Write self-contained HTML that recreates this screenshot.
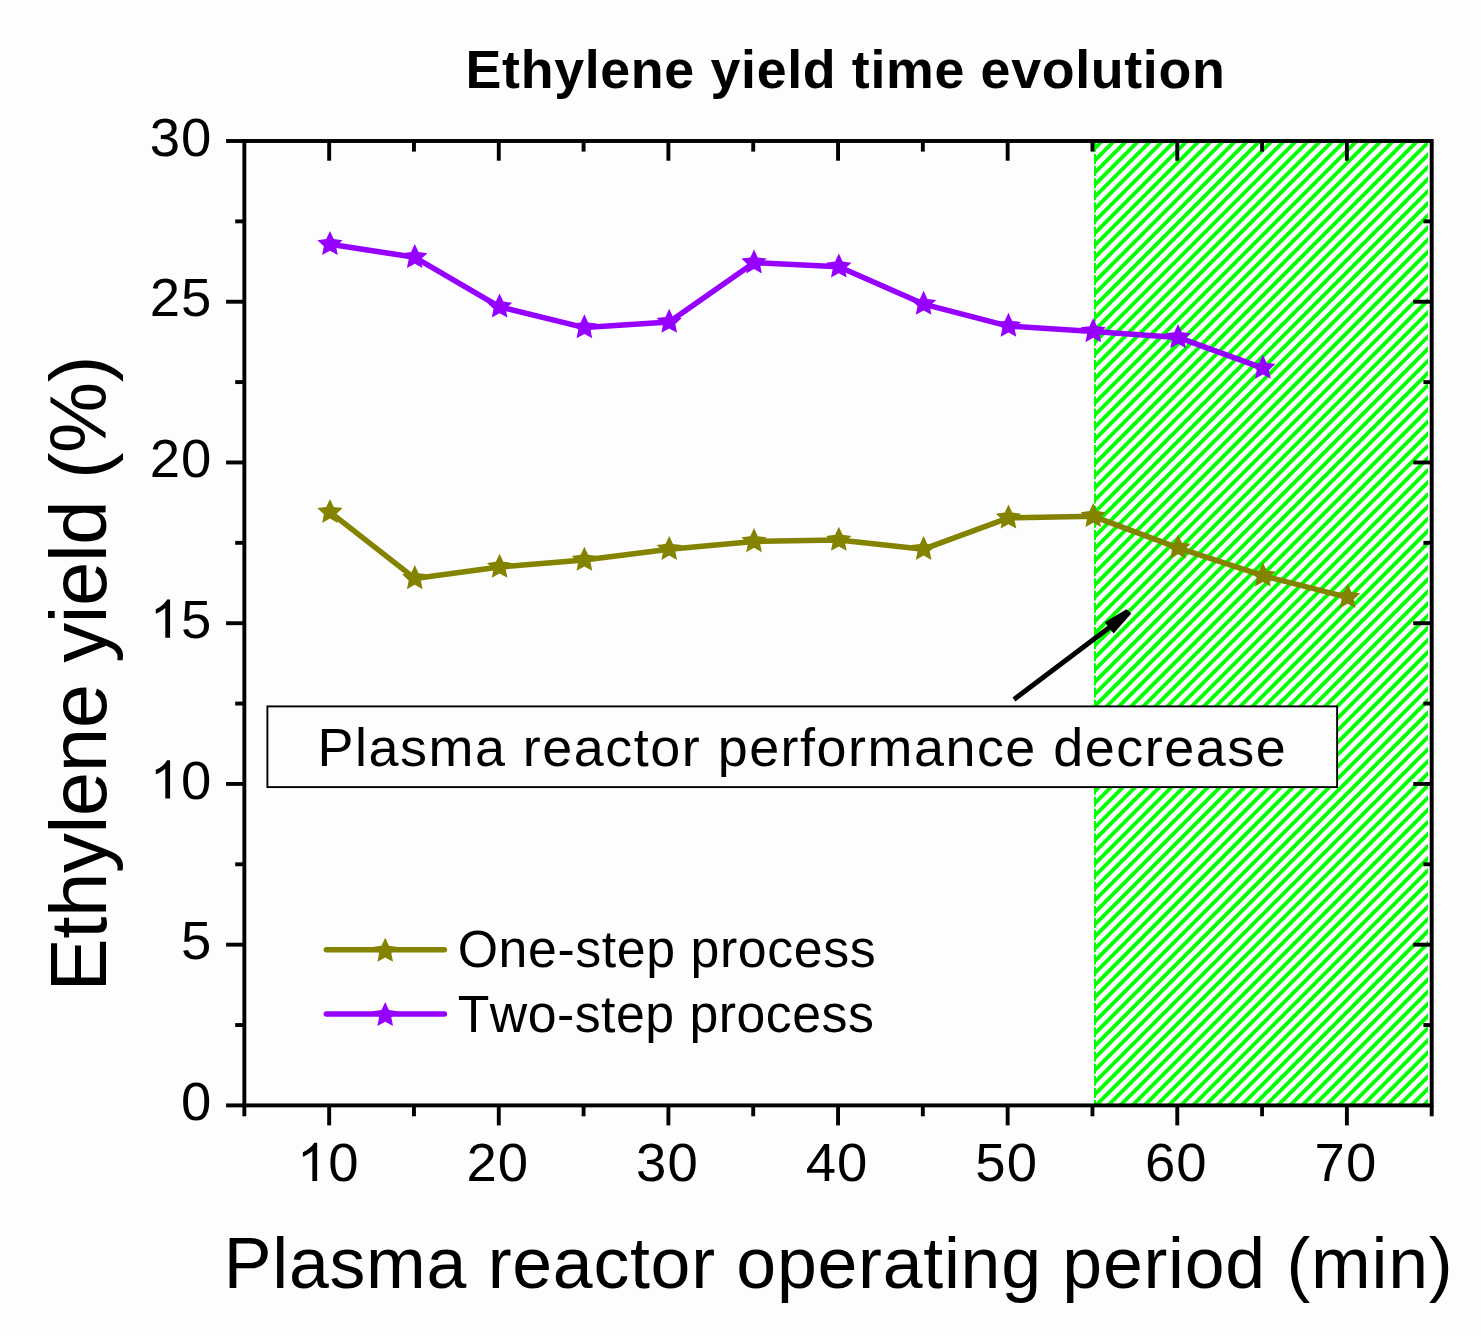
<!DOCTYPE html>
<html><head><meta charset="utf-8"><style>
html,body{margin:0;padding:0;background:#fdfdfd;overflow:hidden;}
svg{display:block;}
text{font-family:"Liberation Sans",sans-serif;font-kerning:none;}
</style></head><body>
<svg width="1481" height="1341" viewBox="0 0 1481 1341">
<rect width="1481" height="1341" fill="#fff"/>
<rect width="1481" height="1329" fill="#fdfdfd"/>
<defs><clipPath id="hc"><rect x="1094.0" y="143.0" width="334.0" height="961.0"/></clipPath></defs>
<path clip-path="url(#hc)" d="M104.81,1114.00L1085.81,133.00M116.94,1114.00L1097.94,133.00M129.07,1114.00L1110.07,133.00M141.20,1114.00L1122.20,133.00M153.33,1114.00L1134.33,133.00M165.46,1114.00L1146.46,133.00M177.59,1114.00L1158.59,133.00M189.72,1114.00L1170.72,133.00M201.85,1114.00L1182.85,133.00M213.98,1114.00L1194.98,133.00M226.11,1114.00L1207.11,133.00M238.24,1114.00L1219.24,133.00M250.37,1114.00L1231.37,133.00M262.50,1114.00L1243.50,133.00M274.63,1114.00L1255.63,133.00M286.76,1114.00L1267.76,133.00M298.89,1114.00L1279.89,133.00M311.02,1114.00L1292.02,133.00M323.15,1114.00L1304.15,133.00M335.28,1114.00L1316.28,133.00M347.41,1114.00L1328.41,133.00M359.54,1114.00L1340.54,133.00M371.67,1114.00L1352.67,133.00M383.80,1114.00L1364.80,133.00M395.93,1114.00L1376.93,133.00M408.06,1114.00L1389.06,133.00M420.19,1114.00L1401.19,133.00M432.32,1114.00L1413.32,133.00M444.45,1114.00L1425.45,133.00M456.58,1114.00L1437.58,133.00M468.71,1114.00L1449.71,133.00M480.84,1114.00L1461.84,133.00M492.97,1114.00L1473.97,133.00M505.10,1114.00L1486.10,133.00M517.23,1114.00L1498.23,133.00M529.36,1114.00L1510.36,133.00M541.49,1114.00L1522.49,133.00M553.62,1114.00L1534.62,133.00M565.75,1114.00L1546.75,133.00M577.88,1114.00L1558.88,133.00M590.01,1114.00L1571.01,133.00M602.14,1114.00L1583.14,133.00M614.27,1114.00L1595.27,133.00M626.40,1114.00L1607.40,133.00M638.53,1114.00L1619.53,133.00M650.66,1114.00L1631.66,133.00M662.79,1114.00L1643.79,133.00M674.92,1114.00L1655.92,133.00M687.05,1114.00L1668.05,133.00M699.18,1114.00L1680.18,133.00M711.31,1114.00L1692.31,133.00M723.44,1114.00L1704.44,133.00M735.57,1114.00L1716.57,133.00M747.70,1114.00L1728.70,133.00M759.83,1114.00L1740.83,133.00M771.96,1114.00L1752.96,133.00M784.09,1114.00L1765.09,133.00M796.22,1114.00L1777.22,133.00M808.35,1114.00L1789.35,133.00M820.48,1114.00L1801.48,133.00M832.61,1114.00L1813.61,133.00M844.74,1114.00L1825.74,133.00M856.87,1114.00L1837.87,133.00M869.00,1114.00L1850.00,133.00M881.13,1114.00L1862.13,133.00M893.26,1114.00L1874.26,133.00M905.39,1114.00L1886.39,133.00M917.52,1114.00L1898.52,133.00M929.65,1114.00L1910.65,133.00M941.78,1114.00L1922.78,133.00M953.91,1114.00L1934.91,133.00M966.04,1114.00L1947.04,133.00M978.17,1114.00L1959.17,133.00M990.30,1114.00L1971.30,133.00M1002.43,1114.00L1983.43,133.00M1014.56,1114.00L1995.56,133.00M1026.69,1114.00L2007.69,133.00M1038.82,1114.00L2019.82,133.00M1050.95,1114.00L2031.95,133.00M1063.08,1114.00L2044.08,133.00M1075.21,1114.00L2056.21,133.00M1087.34,1114.00L2068.34,133.00M1099.47,1114.00L2080.47,133.00M1111.60,1114.00L2092.60,133.00M1123.73,1114.00L2104.73,133.00M1135.86,1114.00L2116.86,133.00M1147.99,1114.00L2128.99,133.00M1160.12,1114.00L2141.12,133.00M1172.25,1114.00L2153.25,133.00M1184.38,1114.00L2165.38,133.00M1196.51,1114.00L2177.51,133.00M1208.64,1114.00L2189.64,133.00M1220.77,1114.00L2201.77,133.00M1232.90,1114.00L2213.90,133.00M1245.03,1114.00L2226.03,133.00M1257.16,1114.00L2238.16,133.00M1269.29,1114.00L2250.29,133.00M1281.42,1114.00L2262.42,133.00M1293.55,1114.00L2274.55,133.00M1305.68,1114.00L2286.68,133.00M1317.81,1114.00L2298.81,133.00M1329.94,1114.00L2310.94,133.00M1342.07,1114.00L2323.07,133.00M1354.20,1114.00L2335.20,133.00M1366.33,1114.00L2347.33,133.00M1378.46,1114.00L2359.46,133.00M1390.59,1114.00L2371.59,133.00M1402.72,1114.00L2383.72,133.00M1414.85,1114.00L2395.85,133.00M1426.98,1114.00L2407.98,133.00M1439.11,1114.00L2420.11,133.00" stroke="#00ff00" stroke-width="3.80" fill="none"/>
<line x1="1095" y1="143.0" x2="1095" y2="1104.0" stroke="#00ff00" stroke-width="2" stroke-dasharray="10 2.13" stroke-dashoffset="1.23"/>
<rect x="244.35" y="141.0" width="1187.3500000000001" height="964.4000000000001" fill="none" stroke="#000" stroke-width="3.9"/>
<line x1="244.35" y1="1105.40" x2="244.35" y2="1116.30" stroke="#000" stroke-width="3.9"/>
<line x1="329.16" y1="1105.40" x2="329.16" y2="1125.40" stroke="#000" stroke-width="3.9"/>
<line x1="329.16" y1="141.00" x2="329.16" y2="160.70" stroke="#000" stroke-width="3.9"/>
<line x1="413.97" y1="1105.40" x2="413.97" y2="1116.30" stroke="#000" stroke-width="3.9"/>
<line x1="413.97" y1="141.00" x2="413.97" y2="151.60" stroke="#000" stroke-width="3.9"/>
<line x1="498.78" y1="1105.40" x2="498.78" y2="1125.40" stroke="#000" stroke-width="3.9"/>
<line x1="498.78" y1="141.00" x2="498.78" y2="160.70" stroke="#000" stroke-width="3.9"/>
<line x1="583.59" y1="1105.40" x2="583.59" y2="1116.30" stroke="#000" stroke-width="3.9"/>
<line x1="583.59" y1="141.00" x2="583.59" y2="151.60" stroke="#000" stroke-width="3.9"/>
<line x1="668.40" y1="1105.40" x2="668.40" y2="1125.40" stroke="#000" stroke-width="3.9"/>
<line x1="668.40" y1="141.00" x2="668.40" y2="160.70" stroke="#000" stroke-width="3.9"/>
<line x1="753.21" y1="1105.40" x2="753.21" y2="1116.30" stroke="#000" stroke-width="3.9"/>
<line x1="753.21" y1="141.00" x2="753.21" y2="151.60" stroke="#000" stroke-width="3.9"/>
<line x1="838.03" y1="1105.40" x2="838.03" y2="1125.40" stroke="#000" stroke-width="3.9"/>
<line x1="838.03" y1="141.00" x2="838.03" y2="160.70" stroke="#000" stroke-width="3.9"/>
<line x1="922.84" y1="1105.40" x2="922.84" y2="1116.30" stroke="#000" stroke-width="3.9"/>
<line x1="922.84" y1="141.00" x2="922.84" y2="151.60" stroke="#000" stroke-width="3.9"/>
<line x1="1007.65" y1="1105.40" x2="1007.65" y2="1125.40" stroke="#000" stroke-width="3.9"/>
<line x1="1007.65" y1="141.00" x2="1007.65" y2="160.70" stroke="#000" stroke-width="3.9"/>
<line x1="1092.46" y1="1105.40" x2="1092.46" y2="1116.30" stroke="#000" stroke-width="3.9"/>
<line x1="1092.46" y1="141.00" x2="1092.46" y2="151.60" stroke="#000" stroke-width="3.9"/>
<line x1="1177.27" y1="1105.40" x2="1177.27" y2="1125.40" stroke="#000" stroke-width="3.9"/>
<line x1="1177.27" y1="141.00" x2="1177.27" y2="160.70" stroke="#000" stroke-width="3.9"/>
<line x1="1262.08" y1="1105.40" x2="1262.08" y2="1116.30" stroke="#000" stroke-width="3.9"/>
<line x1="1262.08" y1="141.00" x2="1262.08" y2="151.60" stroke="#000" stroke-width="3.9"/>
<line x1="1346.89" y1="1105.40" x2="1346.89" y2="1125.40" stroke="#000" stroke-width="3.9"/>
<line x1="1346.89" y1="141.00" x2="1346.89" y2="160.70" stroke="#000" stroke-width="3.9"/>
<line x1="1431.70" y1="1105.40" x2="1431.70" y2="1116.30" stroke="#000" stroke-width="3.9"/>
<line x1="244.35" y1="1105.40" x2="226.10" y2="1105.40" stroke="#000" stroke-width="3.9"/>
<line x1="244.35" y1="1025.03" x2="235.20" y2="1025.03" stroke="#000" stroke-width="3.9"/>
<line x1="1431.70" y1="1025.03" x2="1423.40" y2="1025.03" stroke="#000" stroke-width="3.9"/>
<line x1="244.35" y1="944.67" x2="226.10" y2="944.67" stroke="#000" stroke-width="3.9"/>
<line x1="1431.70" y1="944.67" x2="1413.20" y2="944.67" stroke="#000" stroke-width="3.9"/>
<line x1="244.35" y1="864.30" x2="235.20" y2="864.30" stroke="#000" stroke-width="3.9"/>
<line x1="1431.70" y1="864.30" x2="1423.40" y2="864.30" stroke="#000" stroke-width="3.9"/>
<line x1="244.35" y1="783.93" x2="226.10" y2="783.93" stroke="#000" stroke-width="3.9"/>
<line x1="1431.70" y1="783.93" x2="1413.20" y2="783.93" stroke="#000" stroke-width="3.9"/>
<line x1="244.35" y1="703.57" x2="235.20" y2="703.57" stroke="#000" stroke-width="3.9"/>
<line x1="1431.70" y1="703.57" x2="1423.40" y2="703.57" stroke="#000" stroke-width="3.9"/>
<line x1="244.35" y1="623.20" x2="226.10" y2="623.20" stroke="#000" stroke-width="3.9"/>
<line x1="1431.70" y1="623.20" x2="1413.20" y2="623.20" stroke="#000" stroke-width="3.9"/>
<line x1="244.35" y1="542.83" x2="235.20" y2="542.83" stroke="#000" stroke-width="3.9"/>
<line x1="1431.70" y1="542.83" x2="1423.40" y2="542.83" stroke="#000" stroke-width="3.9"/>
<line x1="244.35" y1="462.47" x2="226.10" y2="462.47" stroke="#000" stroke-width="3.9"/>
<line x1="1431.70" y1="462.47" x2="1413.20" y2="462.47" stroke="#000" stroke-width="3.9"/>
<line x1="244.35" y1="382.10" x2="235.20" y2="382.10" stroke="#000" stroke-width="3.9"/>
<line x1="1431.70" y1="382.10" x2="1423.40" y2="382.10" stroke="#000" stroke-width="3.9"/>
<line x1="244.35" y1="301.73" x2="226.10" y2="301.73" stroke="#000" stroke-width="3.9"/>
<line x1="1431.70" y1="301.73" x2="1413.20" y2="301.73" stroke="#000" stroke-width="3.9"/>
<line x1="244.35" y1="221.37" x2="235.20" y2="221.37" stroke="#000" stroke-width="3.9"/>
<line x1="1431.70" y1="221.37" x2="1423.40" y2="221.37" stroke="#000" stroke-width="3.9"/>
<line x1="244.35" y1="141.00" x2="226.10" y2="141.00" stroke="#000" stroke-width="3.9"/>
<path transform="translate(296.85,1180.90) scale(0.02661,-0.02595)" d="M763,0L583,0L583,1147C540,1106 483,1065 413,1024C344,983 281,952 225,931L225,1105C326,1152 414,1210 489,1276C564,1342 617,1408 648,1472L763,1472Z" fill="#000"/>
<text x="328.16" y="1180.90" font-size="54.50">0</text>
<text x="466.47" y="1180.90" font-size="54.50">2</text>
<text x="497.78" y="1180.90" font-size="54.50">0</text>
<text x="636.09" y="1180.90" font-size="54.50">3</text>
<text x="667.40" y="1180.90" font-size="54.50">0</text>
<text x="805.71" y="1180.90" font-size="54.50">4</text>
<text x="837.03" y="1180.90" font-size="54.50">0</text>
<text x="975.34" y="1180.90" font-size="54.50">5</text>
<text x="1006.65" y="1180.90" font-size="54.50">0</text>
<text x="1144.96" y="1180.90" font-size="54.50">6</text>
<text x="1176.27" y="1180.90" font-size="54.50">0</text>
<text x="1314.58" y="1180.90" font-size="54.50">7</text>
<text x="1345.89" y="1180.90" font-size="54.50">0</text>
<text x="181.09" y="1120.00" font-size="54.50">0</text>
<text x="181.09" y="959.27" font-size="54.50">5</text>
<path transform="translate(149.78,798.53) scale(0.02661,-0.02595)" d="M763,0L583,0L583,1147C540,1106 483,1065 413,1024C344,983 281,952 225,931L225,1105C326,1152 414,1210 489,1276C564,1342 617,1408 648,1472L763,1472Z" fill="#000"/>
<text x="181.09" y="798.53" font-size="54.50">0</text>
<path transform="translate(149.78,637.80) scale(0.02661,-0.02595)" d="M763,0L583,0L583,1147C540,1106 483,1065 413,1024C344,983 281,952 225,931L225,1105C326,1152 414,1210 489,1276C564,1342 617,1408 648,1472L763,1472Z" fill="#000"/>
<text x="181.09" y="637.80" font-size="54.50">5</text>
<text x="149.78" y="477.07" font-size="54.50">2</text>
<text x="181.09" y="477.07" font-size="54.50">0</text>
<text x="149.78" y="316.33" font-size="54.50">2</text>
<text x="181.09" y="316.33" font-size="54.50">5</text>
<text x="149.78" y="155.60" font-size="54.50">3</text>
<text x="181.09" y="155.60" font-size="54.50">0</text>
<polyline points="329.96,512.20 414.77,578.40 499.58,567.00 584.39,560.00 669.20,549.20 754.01,541.40 838.83,540.00 923.64,549.20 1008.45,517.80 1093.26,516.30 1178.07,547.90 1262.88,575.70 1347.69,597.30" fill="none" stroke="#838300" stroke-width="5.5" stroke-linejoin="round"/>
<polygon points="329.96,498.90 333.72,507.02 342.61,508.09 336.05,514.18 337.78,522.96 329.96,518.60 322.14,522.96 323.87,514.18 317.31,508.09 326.20,507.02" fill="#838300"/>
<polygon points="414.77,565.10 418.53,573.22 427.42,574.29 420.86,580.38 422.59,589.16 414.77,584.80 406.95,589.16 408.68,580.38 402.12,574.29 411.01,573.22" fill="#838300"/>
<polygon points="499.58,553.70 503.34,561.82 512.23,562.89 505.67,568.98 507.40,577.76 499.58,573.40 491.76,577.76 493.50,568.98 486.93,562.89 495.82,561.82" fill="#838300"/>
<polygon points="584.39,546.70 588.15,554.82 597.04,555.89 590.48,561.98 592.21,570.76 584.39,566.40 576.58,570.76 578.31,561.98 571.74,555.89 580.63,554.82" fill="#838300"/>
<polygon points="669.20,535.90 672.97,544.02 681.85,545.09 675.29,551.18 677.02,559.96 669.20,555.60 661.39,559.96 663.12,551.18 656.55,545.09 665.44,544.02" fill="#838300"/>
<polygon points="754.01,528.10 757.78,536.22 766.66,537.29 760.10,543.38 761.83,552.16 754.01,547.80 746.20,552.16 747.93,543.38 741.37,537.29 750.25,536.22" fill="#838300"/>
<polygon points="838.83,526.70 842.59,534.82 851.47,535.89 844.91,541.98 846.64,550.76 838.83,546.40 831.01,550.76 832.74,541.98 826.18,535.89 835.06,534.82" fill="#838300"/>
<polygon points="923.64,535.90 927.40,544.02 936.28,545.09 929.72,551.18 931.45,559.96 923.64,555.60 915.82,559.96 917.55,551.18 910.99,545.09 919.87,544.02" fill="#838300"/>
<polygon points="1008.45,504.50 1012.21,512.62 1021.10,513.69 1014.53,519.78 1016.26,528.56 1008.45,524.20 1000.63,528.56 1002.36,519.78 995.80,513.69 1004.68,512.62" fill="#838300"/>
<polygon points="1093.26,503.00 1097.02,511.12 1105.91,512.19 1099.34,518.28 1101.07,527.06 1093.26,522.70 1085.44,527.06 1087.17,518.28 1080.61,512.19 1089.50,511.12" fill="#838300"/>
<polygon points="1178.07,534.60 1181.83,542.72 1190.72,543.79 1184.15,549.88 1185.89,558.66 1178.07,554.30 1170.25,558.66 1171.98,549.88 1165.42,543.79 1174.31,542.72" fill="#838300"/>
<polygon points="1262.88,562.40 1266.64,570.52 1275.53,571.59 1268.97,577.68 1270.70,586.46 1262.88,582.10 1255.06,586.46 1256.79,577.68 1250.23,571.59 1259.12,570.52" fill="#838300"/>
<polygon points="1347.69,584.00 1351.45,592.12 1360.34,593.19 1353.78,599.28 1355.51,608.06 1347.69,603.70 1339.87,608.06 1341.60,599.28 1335.04,593.19 1343.93,592.12" fill="#838300"/>
<polyline points="329.96,244.30 414.77,257.30 499.58,306.80 584.39,327.60 669.20,322.10 754.01,262.70 838.83,266.80 923.64,304.10 1008.45,326.10 1093.26,331.40 1178.07,337.40 1262.88,368.10" fill="none" stroke="#9600ff" stroke-width="5.5" stroke-linejoin="round"/>
<polygon points="329.96,231.00 333.72,239.12 342.61,240.19 336.05,246.28 337.78,255.06 329.96,250.70 322.14,255.06 323.87,246.28 317.31,240.19 326.20,239.12" fill="#9600ff"/>
<polygon points="414.77,244.00 418.53,252.12 427.42,253.19 420.86,259.28 422.59,268.06 414.77,263.70 406.95,268.06 408.68,259.28 402.12,253.19 411.01,252.12" fill="#9600ff"/>
<polygon points="499.58,293.50 503.34,301.62 512.23,302.69 505.67,308.78 507.40,317.56 499.58,313.20 491.76,317.56 493.50,308.78 486.93,302.69 495.82,301.62" fill="#9600ff"/>
<polygon points="584.39,314.30 588.15,322.42 597.04,323.49 590.48,329.58 592.21,338.36 584.39,334.00 576.58,338.36 578.31,329.58 571.74,323.49 580.63,322.42" fill="#9600ff"/>
<polygon points="669.20,308.80 672.97,316.92 681.85,317.99 675.29,324.08 677.02,332.86 669.20,328.50 661.39,332.86 663.12,324.08 656.55,317.99 665.44,316.92" fill="#9600ff"/>
<polygon points="754.01,249.40 757.78,257.52 766.66,258.59 760.10,264.68 761.83,273.46 754.01,269.10 746.20,273.46 747.93,264.68 741.37,258.59 750.25,257.52" fill="#9600ff"/>
<polygon points="838.83,253.50 842.59,261.62 851.47,262.69 844.91,268.78 846.64,277.56 838.83,273.20 831.01,277.56 832.74,268.78 826.18,262.69 835.06,261.62" fill="#9600ff"/>
<polygon points="923.64,290.80 927.40,298.92 936.28,299.99 929.72,306.08 931.45,314.86 923.64,310.50 915.82,314.86 917.55,306.08 910.99,299.99 919.87,298.92" fill="#9600ff"/>
<polygon points="1008.45,312.80 1012.21,320.92 1021.10,321.99 1014.53,328.08 1016.26,336.86 1008.45,332.50 1000.63,336.86 1002.36,328.08 995.80,321.99 1004.68,320.92" fill="#9600ff"/>
<polygon points="1093.26,318.10 1097.02,326.22 1105.91,327.29 1099.34,333.38 1101.07,342.16 1093.26,337.80 1085.44,342.16 1087.17,333.38 1080.61,327.29 1089.50,326.22" fill="#9600ff"/>
<polygon points="1178.07,324.10 1181.83,332.22 1190.72,333.29 1184.15,339.38 1185.89,348.16 1178.07,343.80 1170.25,348.16 1171.98,339.38 1165.42,333.29 1174.31,332.22" fill="#9600ff"/>
<polygon points="1262.88,354.80 1266.64,362.92 1275.53,363.99 1268.97,370.08 1270.70,378.86 1262.88,374.50 1255.06,378.86 1256.79,370.08 1250.23,363.99 1259.12,362.92" fill="#9600ff"/>
<rect x="267.4" y="706.4" width="1069.7" height="80.7" fill="#fdfdfd" stroke="#000" stroke-width="1.9"/>
<text x="317.58" y="766.10" font-size="53.91" font-weight="normal" letter-spacing="1.506" fill="#000">Plasma reactor performance decrease</text>
<line x1="1014" y1="699.5" x2="1112" y2="625.5" stroke="#000" stroke-width="5" stroke-linecap="butt"/>
<polygon points="1104.8,622.3 1126.5,609.3 1131.3,613.6 1113.6,633.6" fill="#000"/>
<line x1="326.3" y1="949.8" x2="444.4" y2="949.8" stroke="#838300" stroke-width="5.5" stroke-linecap="round"/>
<polygon points="385.20,937.70 388.96,945.82 397.85,946.89 391.29,952.98 393.02,961.76 385.20,957.40 377.38,961.76 379.11,952.98 372.55,946.89 381.44,945.82" fill="#838300"/>
<text x="457.65" y="967.00" font-size="51.82" font-weight="normal" letter-spacing="0.604" fill="#000">One-step process</text>
<line x1="326.3" y1="1014.1" x2="444.4" y2="1014.1" stroke="#9600ff" stroke-width="5.5" stroke-linecap="round"/>
<polygon points="385.20,1002.00 388.96,1010.12 397.85,1011.19 391.29,1017.28 393.02,1026.06 385.20,1021.70 377.38,1026.06 379.11,1017.28 372.55,1011.19 381.44,1010.12" fill="#9600ff"/>
<text x="457.64" y="1031.80" font-size="51.82" font-weight="normal" letter-spacing="0.489" fill="#000">Two-step process</text>
<text x="465.60" y="87.60" font-size="53.77" font-weight="bold" letter-spacing="0.651" fill="#000">Ethylene yield time evolution</text>
<text x="223.72" y="1287.90" font-size="71.65" font-weight="normal" letter-spacing="0.733" fill="#000">Plasma reactor operating period (min)</text>
<text transform="translate(106.30,991.45) rotate(-90)" font-size="79.89" font-weight="normal" letter-spacing="-0.472" fill="#000">Ethylene yield (%)</text>
</svg>
</body></html>
